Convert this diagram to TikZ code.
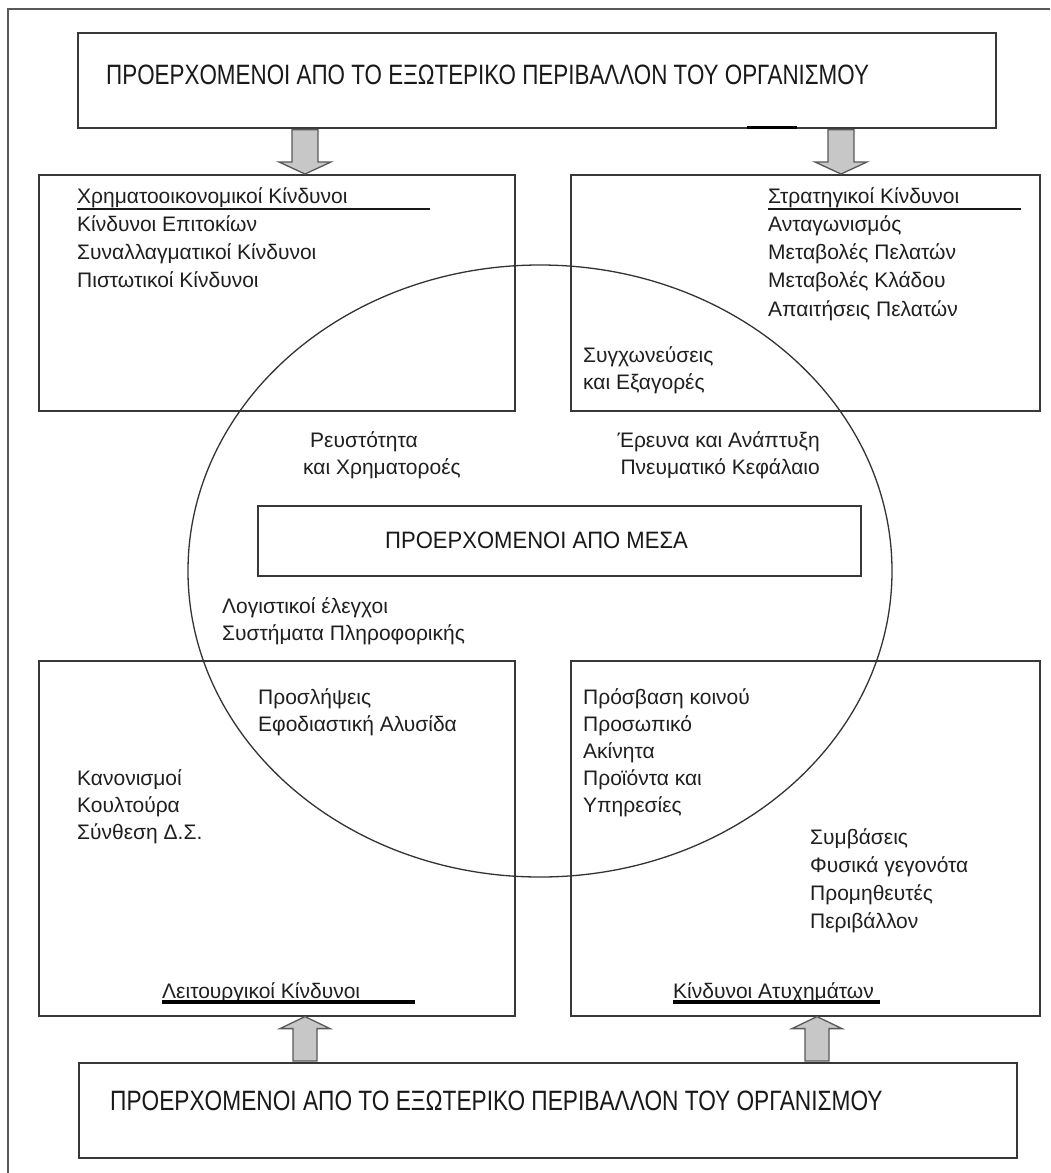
\documentclass[tikz,border=0pt]{standalone}
\usepackage{fontspec}
\setmainfont{Liberation Sans}
\usetikzlibrary{calc,shapes.geometric}
\begin{document}
\begin{tikzpicture}[x=1pt,y=-1pt,
  box/.style={draw=black!78, line width=1.6pt, inner sep=0pt, anchor=north west},
  oval/.style={draw=black!80, line width=1.3pt, ellipse, inner sep=0pt},
  body/.style={anchor=base west, inner sep=0pt, text=black!88, font=\fontsize{21}{28}\selectfont},
  bodyr/.style={body, anchor=base east},
  caps/.style={anchor=base west, inner sep=0pt, text=black!90},
  bigarrow/.style={draw=black!65, fill=black!22, line width=1.3pt, line join=miter},
  uline/.style={draw=black!90, line width=2.6pt},
  heavyline/.style={draw=black, line width=4pt},
]
\useasboundingbox (0,0) rectangle (1050,1173);
\fill[white] (0,0) rectangle (1050,1173);

% page frame: only its left and top sides lie on the sheet
\coordinate (fa) at (8,1173);
\coordinate (fb) at (8,9);
\coordinate (fc) at (1050,9);
\draw[black!65, line width=2pt] (fa) -- (fb) -- (fc);

% boxes
\node[box, minimum width=918pt, minimum height=95pt] (ext1) at (77,32) {};
\node[box, minimum width=476pt, minimum height=236pt] (fin) at (38,174) {};
\node[box, minimum width=469pt, minimum height=236pt] (str) at (570,174) {};
\node[box, minimum width=603pt, minimum height=70pt] (inner) at (257,505) {};
\node[box, minimum width=476pt, minimum height=355pt] (ops) at (38,660) {};
\node[box, minimum width=469pt, minimum height=355pt] (acc) at (570,660) {};
\node[box, minimum width=938pt, minimum height=95pt] (ext2) at (78,1062) {};

% a short heavier stretch on the lower edge of the top box
\coordinate (ka) at (747,127);
\coordinate (kb) at (797,127);
\draw[black, line width=3pt] (ka) -- (kb);

% the internal sphere
\node[oval, minimum width=704pt, minimum height=612pt] (core) at (540,571) {};

% block arrows
\coordinate (c1) at (305,0);
\coordinate (c2) at (841,0);
\coordinate (c3) at (305,0);
\coordinate (c4) at (817,0);
\draw[bigarrow] ($(ext1.south -| c1)+(-13,1)$) -- ($(fin.north -| c1)+(-13,-12)$) -- ($(fin.north -| c1)+(-26,-12)$) -- (fin.north -| c1) -- ($(fin.north -| c1)+(26,-12)$) -- ($(fin.north -| c1)+(13,-12)$) -- ($(ext1.south -| c1)+(13,1)$) -- cycle;
\draw[bigarrow] ($(ext1.south -| c2)+(-13,1)$) -- ($(str.north -| c2)+(-13,-12)$) -- ($(str.north -| c2)+(-26,-12)$) -- (str.north -| c2) -- ($(str.north -| c2)+(26,-12)$) -- ($(str.north -| c2)+(13,-12)$) -- ($(ext1.south -| c2)+(13,1)$) -- cycle;
\draw[bigarrow] ($(ext2.north -| c3)+(-12,-1)$) -- ($(ops.south -| c3)+(-12,12)$) -- ($(ops.south -| c3)+(-25,12)$) -- (ops.south -| c3) -- ($(ops.south -| c3)+(25,12)$) -- ($(ops.south -| c3)+(12,12)$) -- ($(ext2.north -| c3)+(12,-1)$) -- cycle;
\draw[bigarrow] ($(ext2.north -| c4)+(-12,-1)$) -- ($(acc.south -| c4)+(-12,12)$) -- ($(acc.south -| c4)+(-25,12)$) -- (acc.south -| c4) -- ($(acc.south -| c4)+(25,12)$) -- ($(acc.south -| c4)+(12,12)$) -- ($(ext2.north -| c4)+(12,-1)$) -- cycle;

% titles in capitals
\node[caps, font=\fontsize{28}{30}\selectfont] (title1) at (106,84.5)
  {\scalebox{0.8}[1]{ΠΡΟΕΡΧΟΜΕΝΟΙ ΑΠΟ ΤΟ ΕΞΩΤΕΡΙΚΟ ΠΕΡΙΒΑΛΛΟΝ ΤΟΥ ΟΡΓΑΝΙΣΜΟΥ}};
\node[caps, font=\fontsize{28}{30}\selectfont] (title2) at (110,1110)
  {\scalebox{0.81}[1]{ΠΡΟΕΡΧΟΜΕΝΟΙ ΑΠΟ ΤΟ ΕΞΩΤΕΡΙΚΟ ΠΕΡΙΒΑΛΛΟΝ ΤΟΥ ΟΡΓΑΝΙΣΜΟΥ}};
\node[caps, font=\fontsize{23.7}{26}\selectfont] (title3) at (385,548)
  {\scalebox{0.93}[1]{ΠΡΟΕΡΧΟΜΕΝΟΙ ΑΠΟ ΜΕΣΑ}};

% financial risks
\node[body] (h1) at (77,203) {Χρηματοοικονομικοί Κίνδυνοι};
\draw[uline] ([yshift=-6pt]h1.base west) -- ++(353,0);
\foreach \t [count=\i] in {Κίνδυνοι Επιτοκίων, Συναλλαγματικοί Κίνδυνοι, Πιστωτικοί Κίνδυνοι}
  \node[body] (f\i) at (77,203+28.3*\i) {\t};

% strategic risks
\node[body] (h2) at (768,203) {Στρατηγικοί Κίνδυνοι};
\draw[uline] ([yshift=-6pt]h2.base west) -- ++(253,0);
\foreach \t [count=\i] in {Ανταγωνισμός, Μεταβολές Πελατών, Μεταβολές Κλάδου, Απαιτήσεις Πελατών}
  \node[body] (s\i) at (768,203+28.3*\i) {\t};
\node[body] (m1) at (583,362) {Συγχωνεύσεις};
\node[body] (m2) at (583,389) {και Εξαγορές};

% items inside the sphere
\node[body] (l1) at (310,447) {Ρευστότητα};
\node[body] (l2) at (303,474) {και Χρηματοροές};
\node[bodyr] (r1) at (820,447) {Έρευνα και Ανάπτυξη};
\node[bodyr] (r2) at (820,474) {Πνευματικό Κεφάλαιο};
\node[body] (a1) at (222,613) {Λογιστικοί έλεγχοι};
\node[body] (a2) at (222,640) {Συστήματα Πληροφορικής};
\node[body] (p1) at (258,704) {Προσλήψεις};
\node[body] (p2) at (258,731) {Εφοδιαστική Αλυσίδα};
\foreach \t [count=\i] in {Πρόσβαση κοινού, Προσωπικό, Ακίνητα, Προϊόντα και, Υπηρεσίες}
  \node[body] (q\i) at (583,677+27*\i) {\t};

% operational risks
\foreach \t [count=\i] in {Κανονισμοί, Κουλτούρα, Σύνθεση Δ.Σ.}
  \node[body] (o\i) at (77,758+27*\i) {\t};
\node[body] (h3) at (162,998) {Λειτουργικοί Κίνδυνοι};
\draw[heavyline] ([yshift=-4pt]h3.base west) -- ++(253,0);

% accident risks
\foreach \t [count=\i] in {Συμβάσεις, Φυσικά γεγονότα, Προμηθευτές, Περιβάλλον}
  \node[body] (e\i) at (810,816+28*\i) {\t};
\node[body] (h4) at (673,998) {Κίνδυνοι Ατυχημάτων};
\draw[heavyline] ([yshift=-4pt]h4.base west) -- ++(207,0);
\end{tikzpicture}
\end{document}
